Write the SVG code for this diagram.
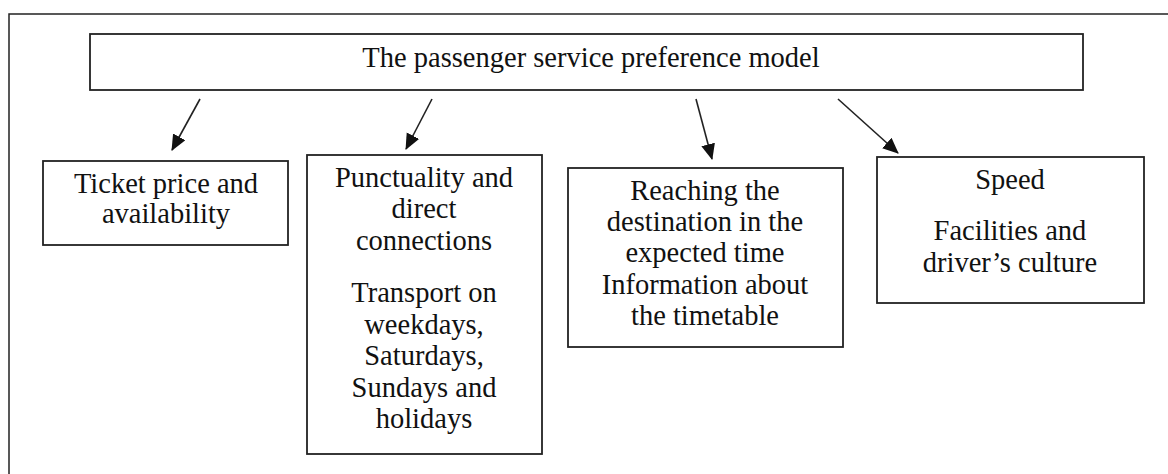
<svg xmlns="http://www.w3.org/2000/svg" width="1168" height="474" viewBox="0 0 1168 474">
  <style>
    .frame { fill: none; stroke: #222; stroke-width: 1.5; }
    .box { fill: #fff; stroke: #222; stroke-width: 1.8; }
    .lbl { font-family: 'Liberation Serif', 'DejaVu Serif', serif; font-size: 28.5px; fill: #111; text-anchor: middle; }
    .conn { stroke: #222; stroke-width: 1.6; fill: none; marker-end: url(#head); }
  </style>
  <defs>
    <marker id="head" markerUnits="userSpaceOnUse" markerWidth="18" markerHeight="16" refX="15" refY="7" orient="auto">
      <path d="M0,0 L16,7 L0,14 z" fill="#111"/>
    </marker>
  </defs>

  <rect width="1168" height="474" fill="#fff"/>
  <!-- outer frame (right and bottom edges run off the page) -->
  <rect class="frame" x="9" y="14" width="1170" height="480"/>

  <g id="model">
    <rect class="box" x="90" y="34" width="993" height="56"/>
    <text class="lbl" x="591" y="67">The passenger service preference model</text>
  </g>

  <g id="connectors">
    <line class="conn" x1="200" y1="99" x2="172" y2="150"/>
    <line class="conn" x1="432" y1="99" x2="406" y2="149"/>
    <line class="conn" x1="696" y1="99" x2="712" y2="159"/>
    <line class="conn" x1="838" y1="99" x2="898" y2="153"/>
  </g>

  <g id="ticket">
    <rect class="box" x="43" y="161" width="245" height="84"/>
    <text class="lbl" x="166" y="193">Ticket price and</text>
    <text class="lbl" x="166" y="223">availability</text>
  </g>

  <g id="punctuality">
    <rect class="box" x="307" y="155" width="235" height="299"/>
    <text class="lbl" x="424" y="187">Punctuality and</text>
    <text class="lbl" x="424" y="218">direct</text>
    <text class="lbl" x="424" y="250">connections</text>
    <text class="lbl" x="424" y="302">Transport on</text>
    <text class="lbl" x="424" y="334">weekdays,</text>
    <text class="lbl" x="424" y="365">Saturdays,</text>
    <text class="lbl" x="424" y="397">Sundays and</text>
    <text class="lbl" x="424" y="428">holidays</text>
  </g>

  <g id="reaching">
    <rect class="box" x="568" y="168" width="275" height="179"/>
    <text class="lbl" x="705" y="200">Reaching the</text>
    <text class="lbl" x="705" y="231">destination in the</text>
    <text class="lbl" x="705" y="262">expected time</text>
    <text class="lbl" x="705" y="294">Information about</text>
    <text class="lbl" x="705" y="325">the timetable</text>
  </g>

  <g id="speed">
    <rect class="box" x="877" y="157" width="267" height="146"/>
    <text class="lbl" x="1010" y="189">Speed</text>
    <text class="lbl" x="1010" y="240">Facilities and</text>
    <text class="lbl" x="1010" y="272">driver’s culture</text>
  </g>
</svg>
